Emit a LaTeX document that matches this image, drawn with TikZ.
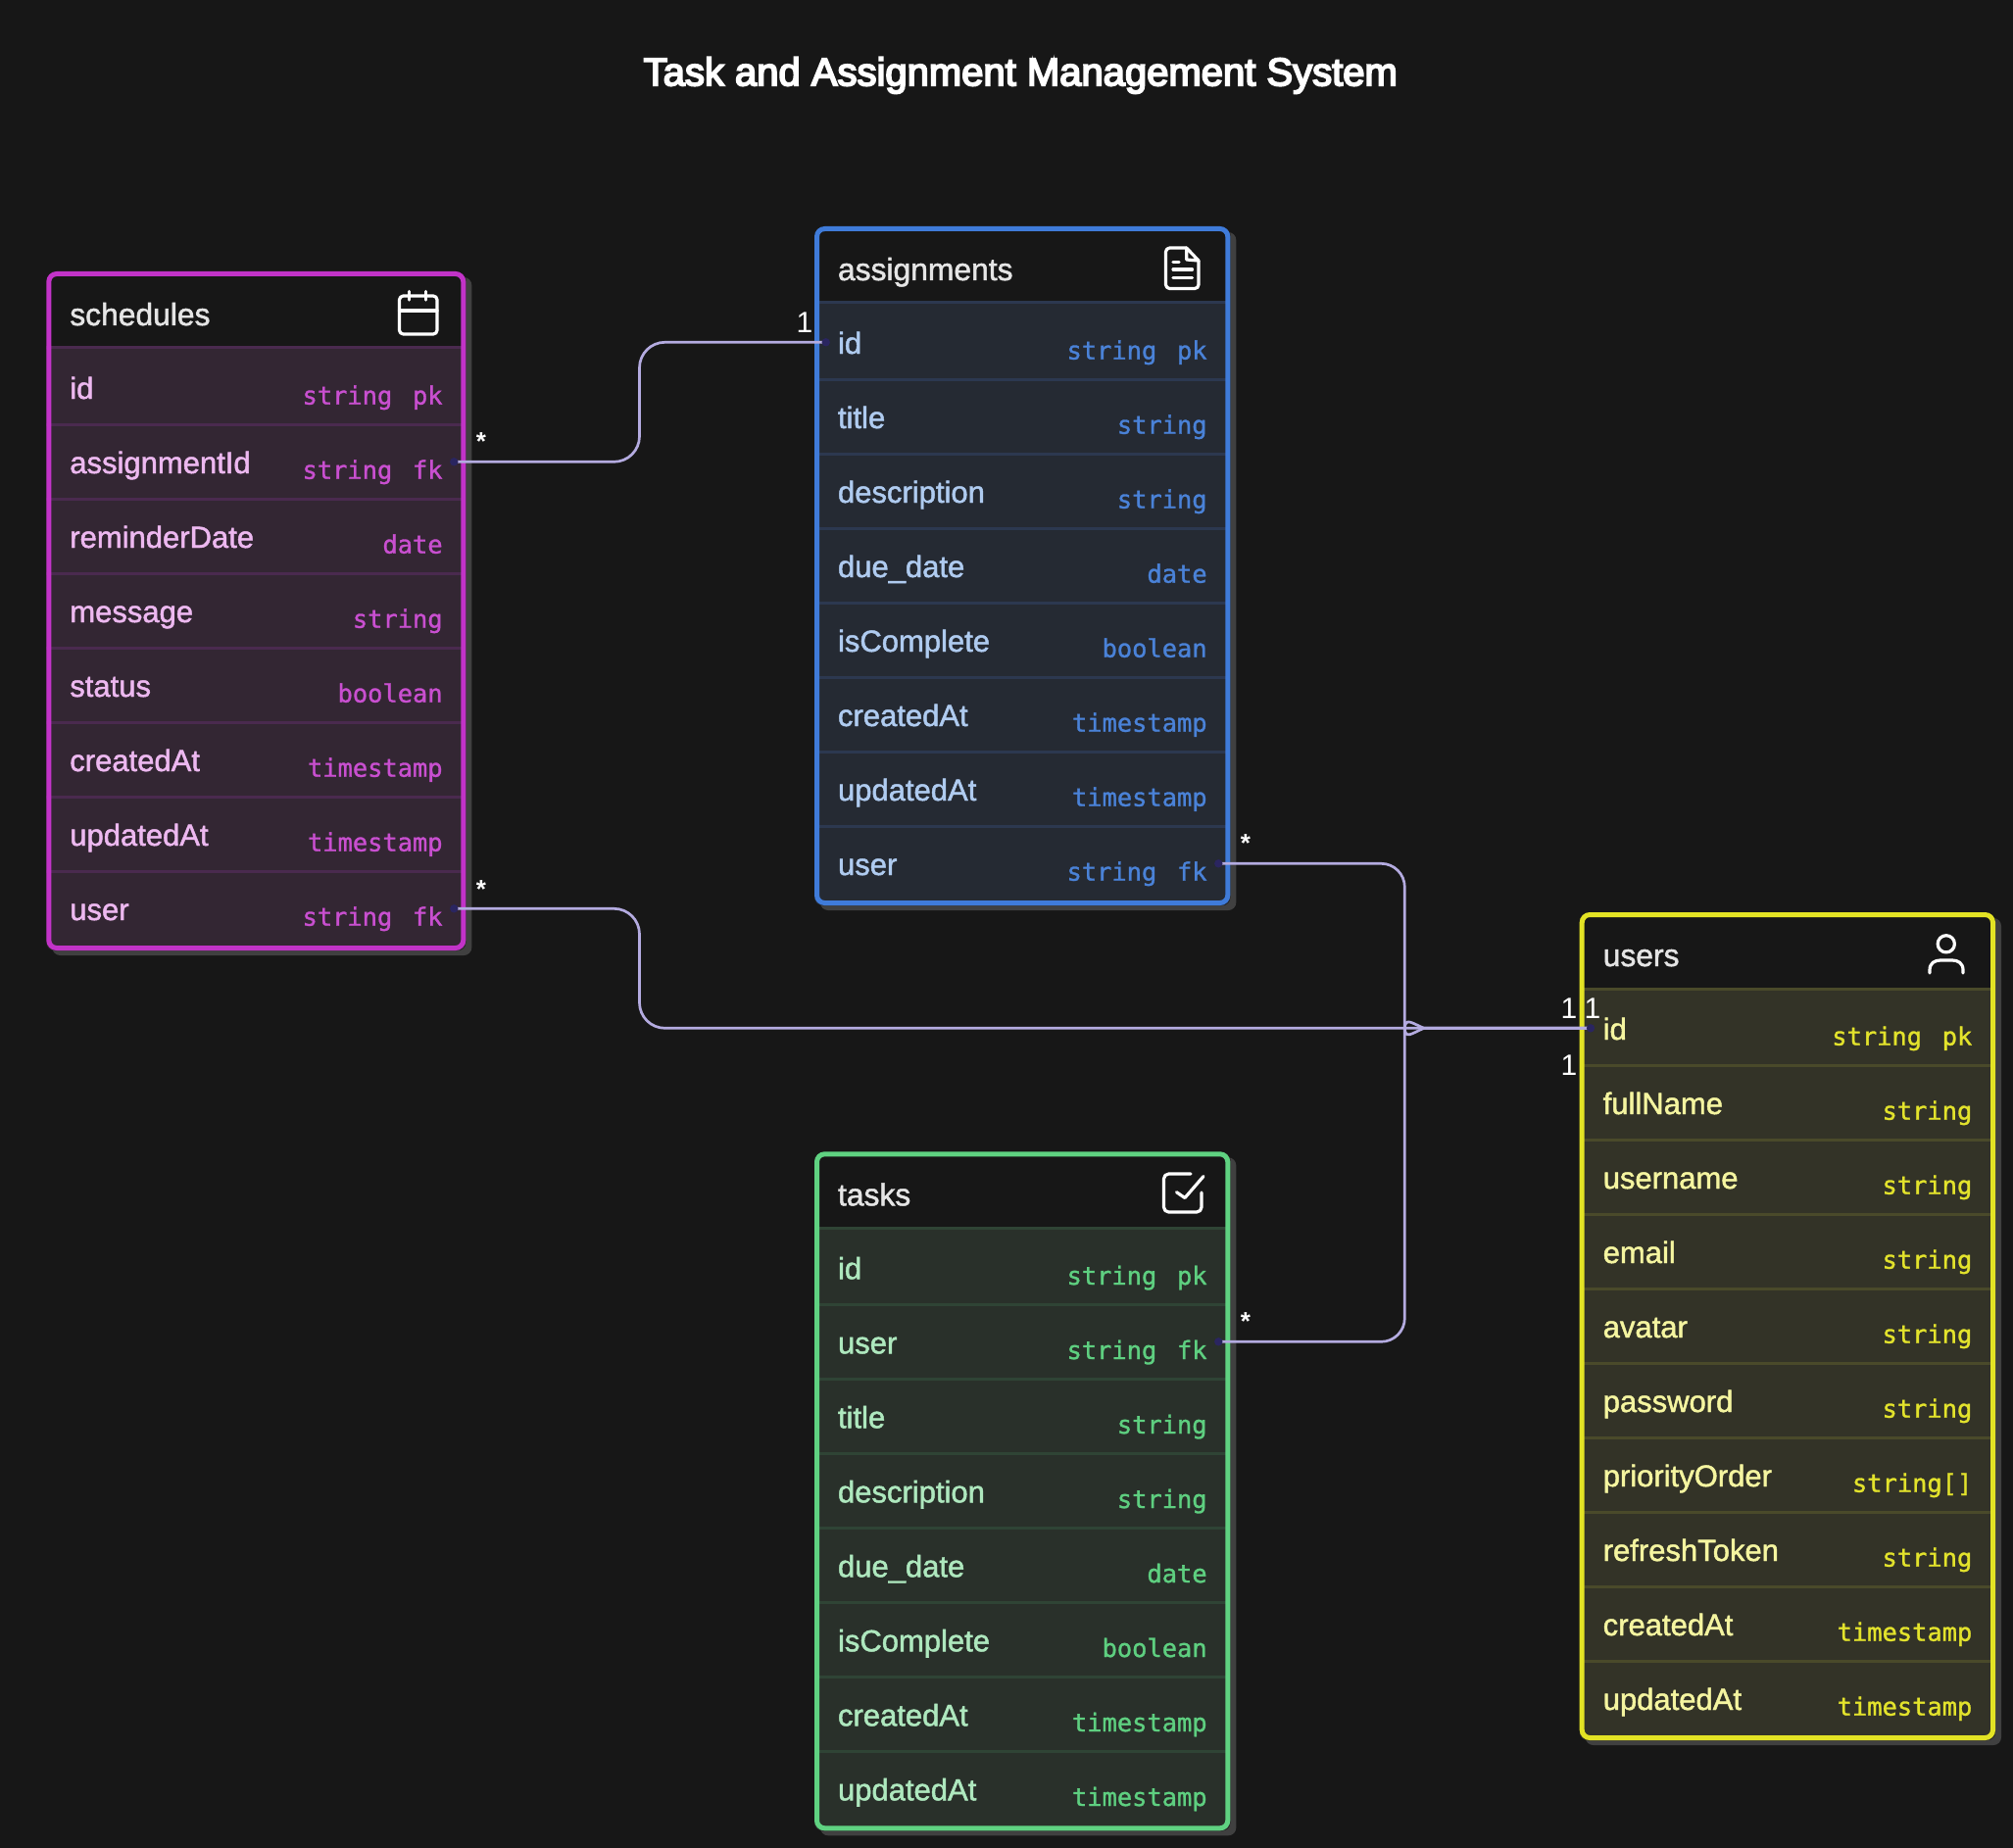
\documentclass[tikz,border=0pt]{standalone}
\usepackage{fontspec}
\usetikzlibrary{calc}
\setmainfont{Liberation Sans}
\newfontfamily\titlefont[FakeBold=4.5]{Liberation Sans}
\newfontfamily\labelfont[FakeBold=1.5]{Liberation Sans}
\newfontfamily\typefont[FakeBold=1.2]{DejaVu Sans Mono}
\definecolor{canvasbg}{HTML}{171717}
\definecolor{shadowc}{HTML}{404040}
\definecolor{headc}{HTML}{E5E5E5}
\definecolor{connc}{HTML}{B4ABE0}
\definecolor{dotc}{HTML}{2A2560}
\definecolor{sB}{HTML}{C233C8}\definecolor{sF}{HTML}{332633}\definecolor{sL}{HTML}{4A2A4F}\definecolor{sN}{HTML}{EDB8F0}\definecolor{sT}{HTML}{C94FD0}
\definecolor{aB}{HTML}{3F7BD9}\definecolor{aF}{HTML}{252A33}\definecolor{aL}{HTML}{2C3850}\definecolor{aN}{HTML}{AFCBF0}\definecolor{aT}{HTML}{4A82D8}
\definecolor{tB}{HTML}{5FD281}\definecolor{tF}{HTML}{29302A}\definecolor{tL}{HTML}{2F4435}\definecolor{tN}{HTML}{AEE8BE}\definecolor{tT}{HTML}{5ECF80}
\definecolor{uB}{HTML}{E3E324}\definecolor{uF}{HTML}{333327}\definecolor{uL}{HTML}{4A4A2A}\definecolor{uN}{HTML}{F5F5A0}\definecolor{uT}{HTML}{E3E32C}
\tikzset{
  titletext/.style={font=\titlefont\fontsize{40}{48}\selectfont,text=white,inner sep=0pt,anchor=base},
  headtext/.style={font=\labelfont\fontsize{31.8}{36}\selectfont,text=headc,inner sep=0pt,anchor=base west},
  nametext/.style={font=\labelfont\fontsize{31}{36}\selectfont,inner sep=0pt,anchor=base west},
  typetext/.style={font=\typefont\fontsize{25.4}{30}\selectfont,inner sep=0pt,anchor=base east},
  conn/.style={draw=connc,line width=2.7pt},
  dot/.style={fill=dotc},
  icon/.style={draw=white,line width=3.2pt,line cap=round,line join=round},
  cardone/.style={font=\fontsize{30}{36}\selectfont,text=white,inner sep=0pt},
  cardmany/.style={font=\fontsize{26}{30}\selectfont\bfseries,text=white,inner sep=0pt,anchor=base},
}
\newcommand{\kk}[2]{#1\hspace{20.7pt}#2}
% prefix, left, right, top, rows, title, list
\newcommand{\ertable}[7]{%
  \pgfmathsetmacro\Lx{#2}\pgfmathsetmacro\Rx{#3}\pgfmathsetmacro\Ty{#4}
  \pgfmathsetmacro\By{#4+156+76*(#5-1)+5}
  \fill[shadowc,rounded corners=8pt] (\Lx+6,\Ty+6) rectangle (\Rx+6,\By+5);
  \fill[canvasbg,rounded corners=8pt] (\Lx,\Ty) rectangle (\Rx,\By);
  \begin{scope}
    \clip[rounded corners=8pt] (\Lx,\Ty) rectangle (\Rx,\By);
    \fill[#1F] (\Lx,\Ty+78) rectangle (\Rx,\By);
    \draw[#1L,line width=3pt] (\Lx,\Ty+78) -- (\Rx,\Ty+78);
    \pgfmathtruncatemacro\lastk{#5-2}
    \foreach \k in {0,...,\lastk}{
      \draw[#1L,line width=3pt] (\Lx,\Ty+156+76*\k) -- (\Rx,\Ty+156+76*\k);
    }
  \end{scope}
  \draw[#1B,line width=5pt,rounded corners=8pt] (\Lx+2.5,\Ty+2.5) rectangle (\Rx-2.5,\By-2.5);
  \node[headtext] (#1-title) at (\Lx+23.8,\Ty+55) {#6};
  \foreach \nm/\ty [count=\i from 0] in {#7}{
    \node[nametext,text=#1N] (#1-n\i) at (\Lx+23.8,\Ty+130+76*\i) {\nm};
    \node[typetext,text=#1T] (#1-t\i) at (\Rx-23.5,\Ty+135.7+76*\i) {\ty};
  }
}
\begin{document}
\begin{tikzpicture}[x=1pt,y=-1pt]
\useasboundingbox (0,0) rectangle (2054,1886);
\fill[canvasbg] (0,0) rectangle (2054,1886);
\node[titletext] (title) at (1041.3,87.3) {Task and Assignment Management System};

\ertable{s}{47.3}{475.3}{277}{8}{schedules}{id/\kk{string}{pk},assignmentId/\kk{string}{fk},reminderDate/date,message/string,status/boolean,createdAt/timestamp,updatedAt/timestamp,user/\kk{string}{fk}}
\ertable{a}{831}{1255.3}{231}{8}{assignments}{id/\kk{string}{pk},title/string,description/string,due\_date/date,isComplete/boolean,createdAt/timestamp,updatedAt/timestamp,user/\kk{string}{fk}}
\ertable{t}{831}{1255.3}{1175.3}{8}{tasks}{id/\kk{string}{pk},user/\kk{string}{fk},title/string,description/string,due\_date/date,isComplete/boolean,createdAt/timestamp,updatedAt/timestamp}
\ertable{u}{1611.7}{2036}{931}{10}{users}{id/\kk{string}{pk},fullName/string,username/string,email/string,avatar/string,password/string,priorityOrder/string[],refreshToken/string,createdAt/timestamp,updatedAt/timestamp}

% icons
\draw[icon,rounded corners=4pt] (407.5,302) rectangle (446,341);
\draw[icon] (407.5,317) -- (446,317) (417.7,297.5) -- (417.7,306) (434.3,297.5) -- (434.3,306);
\draw[icon,rounded corners=4pt] (1210.7,253) -- (1189.5,253) -- (1189.5,294.5) -- (1223,294.5) -- (1223,266);
\draw[icon] (1210.7,253) -- (1223,266) (1210.7,253) -- (1210.7,265) -- (1223,266);
\draw[icon] (1197,267.3) -- (1203,267.3) (1197,275) -- (1216.5,275) (1197,283.3) -- (1216.5,283.3);
\draw[icon,rounded corners=5pt] (1215,1198) -- (1187.5,1198) -- (1187.5,1237) -- (1226,1237) -- (1226,1217);
\draw[icon] (1200.5,1216.7) -- (1209,1222.5) -- (1228,1200.5);
\draw[icon] (1985.8,963.3) circle[radius=8.6];
\draw[icon] (1969,993) -- (1969,990) .. controls (1969,983) and (1974,980) .. (1980,980) -- (1992,980) .. controls (1998,980) and (2003,983) .. (2003,990) -- (2003,993);

% anchors of the connectors
\coordinate (sAid) at (463.3,471.3);
\coordinate (sUser) at (463.3,927.3);
\coordinate (aId) at (842.7,349.3);
\coordinate (aUser) at (1243.3,881.3);
\coordinate (tUser) at (1243.3,1369.3);
\coordinate (uId) at (1623,1049.3);
\coordinate (lanea) at (652.5,410);
\coordinate (laned) at (652.5,990);
\coordinate (laneb) at (1433.3,1027);
\coordinate (lanec) at (1433.3,1072);
\coordinate (merge) at (1453,1049.3);

\draw[conn,rounded corners=26pt] (sAid) -| (lanea) |- (aId);
\draw[conn,rounded corners=26pt] (sUser) -| (laned) |- (uId);
\draw[conn,rounded corners=24pt] (aUser) -| (laneb) [sharp corners] .. controls ($(laneb)+(0,10)$) and ($(merge)+(-12,-4.8)$) .. (merge) -- (uId);
\draw[conn,rounded corners=24pt] (tUser) -| (lanec) [sharp corners] .. controls ($(lanec)+(0,-10)$) and ($(merge)+(-12,4.8)$) .. (merge) -- (uId);
\foreach \c in {sAid,sUser,aId,aUser,tUser,uId}{
  \fill[dot] (\c) circle[radius=4.2];
}

\node[cardone] (c1) at (821,329) {1};
\node[cardone] (c2) at (1601,1029) {1};
\node[cardone] (c3) at (1625,1029) {1};
\node[cardone] (c4) at (1601,1087) {1};
\node[cardmany] (m1) at (491,459.5) {*};
\node[cardmany] (m2) at (491,916.5) {*};
\node[cardmany] (m3) at (1271,869.5) {*};
\node[cardmany] (m4) at (1271,1357.5) {*};
\end{tikzpicture}
\end{document}
